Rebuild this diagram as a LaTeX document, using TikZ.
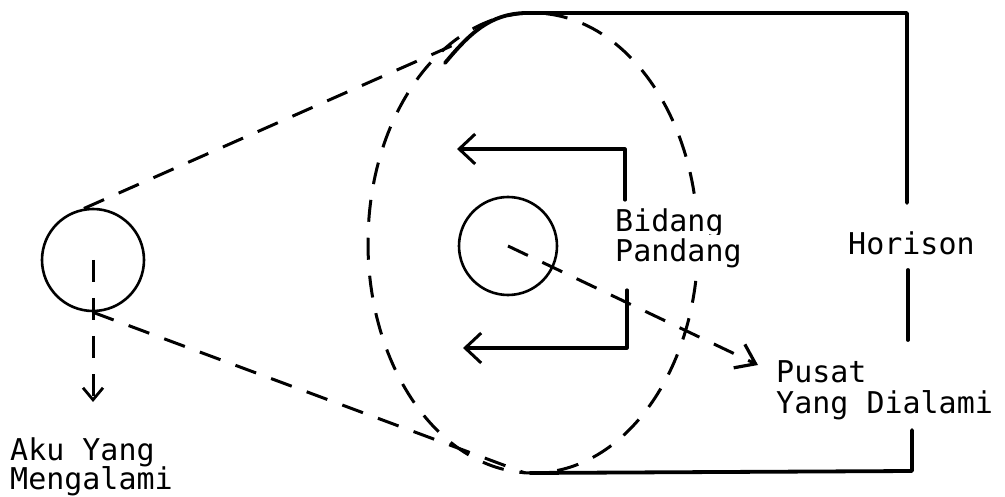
\documentclass[tikz,border=0pt]{standalone}
\usepackage{fontspec}
\setmonofont{DejaVu Sans Mono}
\usetikzlibrary{arrows.meta}
\begin{document}
\begin{tikzpicture}[x=1pt,y=-1pt,
  lbl/.style={font=\ttfamily\fontsize{30}{30}\selectfont, anchor=base west, inner sep=0pt},
  masklbl/.style={lbl, fill=white, inner xsep=2pt, inner ysep=4pt},
  ring/.style={draw, circle, line width=2.6pt, inner sep=0pt},
  solidline/.style={line width=3.2pt, line cap=round, line join=round},
  horline/.style={line width=3.8pt, line cap=round, line join=round},
  dashline/.style={line width=3pt, dash pattern=on 22pt off 16pt},
  barb/.style={-{Straight Barb[length=16pt,width=30pt,line width=3pt]}},
  smallbarb/.style={-{Straight Barb[length=12pt,width=20pt,line width=2.8pt]}},
  pusatbarb/.style={-{Straight Barb[length=18pt,width=26pt,line width=3.2pt]}}]
\useasboundingbox (0,0) rectangle (1005,497);

% field of view (dashed ellipse)
\draw[dashline] (533,243) ellipse [x radius=165, y radius=230];

% circles
\node[ring, minimum size=102pt] (lc) at (93,260) {};
\node[ring, minimum size=98pt] (mc) at (508,246) {};

% labels
\node[masklbl] (bid) at (613,232) {Bidang};
\node[masklbl] (pan) at (613,262) {Pandang};
\node[lbl] (hor) at (848,255) {Horison};
\node[lbl] (pus) at (776,382) {Pusat};
\node[lbl] (yan) at (776,413) {Yang Dialami};
\node[lbl] (aku) at (10,460) {Aku Yang};
\node[lbl] (men) at (10,489) {Mengalami};

% key coordinates
\coordinate (topend) at (458,43);
\coordinate (botend) at (525,473);
\coordinate (akutip) at (93,402);
\coordinate (pustip) at (758,365);
\coordinate (ub0) at (625,200);
\coordinate (ub1) at (625,149);
\coordinate (ub2) at (457,149);
\coordinate (lb0) at (627,290);
\coordinate (lb1) at (627,348);
\coordinate (lb2) at (463,348);

% tangent lines from the experiencing self
\draw[dashline] (lc.100) -- (topend);
\draw[dashline] (lc.south) -- (botend);

% downward arrow from left circle
\draw[dashline, smallbarb] (lc.center) -- (akutip);

% dashed arrow from middle circle to Pusat
\draw[dashline, pusatbarb] (mc.center) -- (pustip);

% Bidang Pandang brackets
\draw[solidline, barb] (ub0) -- (ub1) -- (ub2);
\draw[solidline, barb] (lb0) -- (lb1) -- (lb2);

% horizon
\draw[horline] (445,63) .. controls (470,33) and (490,14) .. (525,13) -- (907,13) -- (907,203);
\draw[horline] (908,270) -- (908,340);
\draw[horline] (912,430) -- (912,471) -- (530,473);
\end{tikzpicture}
\end{document}
